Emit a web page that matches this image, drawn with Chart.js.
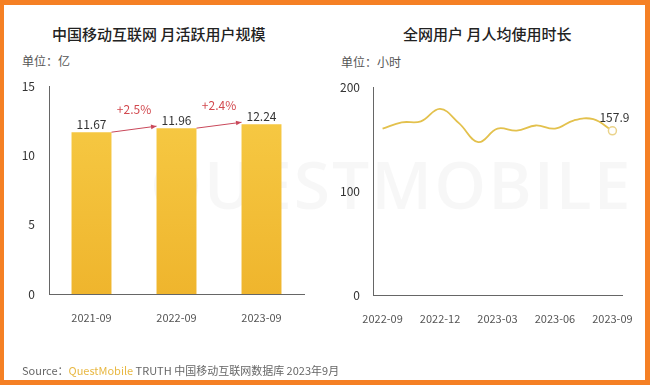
<!DOCTYPE html>
<html>
<head>
<meta charset="utf-8">
<script src="https://cdn.jsdelivr.net/npm/chart.js@4/dist/chart.umd.min.js"></script>
<style>
  body { margin: 0; }
  #frame { position: relative; width: 650px; height: 385px; background: #f58024; overflow: hidden; font-family: "Noto Sans CJK SC", "Noto Sans", sans-serif; }
  #paper { position: absolute; left: 4px; top: 5px; width: 641px; height: 375px; background: #fff; }
  .abs { position: absolute; white-space: nowrap; }
  .title { font-size: 15px; color: #222; font-weight: 500; }
  .unit { font-size: 12px; color: #555; }
  #mark { left: 150px; top: 138px; font-size: 66px; font-weight: 600; color: rgba(0,0,0,0.03); letter-spacing: 2px; font-family: "Open Sans", sans-serif; }
  canvas { position: absolute; top: 0; }
  #source { left: 22px; top: 362px; font-size: 11px; color: #666; }
</style>
</head>
<body>
<div id="frame">
  <div id="paper"></div>
  <div class="abs" id="mark">QUESTMOBILE</div>
  <div class="abs title" style="left:52px;top:23px;">中国移动互联网 月活跃用户规模</div>
  <div class="abs title" style="left:403px;top:23px;">全网用户 月人均使用时长</div>
  <div class="abs unit" style="left:22px;top:52px;">单位：亿</div>
  <div class="abs unit" style="left:341px;top:53px;">单位：小时</div>
  <canvas id="left" width="325" height="385" style="left:0;"></canvas>
  <canvas id="right" width="325" height="385" style="left:325px;"></canvas>
  <div class="abs" id="source">Source：<span style="color:#e8b843;">QuestMobile</span> TRUTH 中国移动互联网数据库 2023年9月</div>
</div>
<script>
const barLabels = ["2021-09", "2022-09", "2023-09"];
const mauValues = [11.67, 11.96, 12.24];
const growthLabels = ["+2.5%", "+2.4%"];

const months = ["2022-09", "2022-10", "2022-11", "2022-12", "2023-01", "2023-02", "2023-03",
                "2023-04", "2023-05", "2023-06", "2023-07", "2023-08", "2023-09"];
const hourValues = [160, 166, 167, 179, 165, 147, 160, 158, 163, 160, 168, 169, 157.9];

const tickFont = { family: "Noto Sans CJK SC", size: 12 };
const axisFont = { family: "Noto Sans CJK SC", size: 11 };

// value labels + growth arrows on the bar chart
const barNotes = {
  id: "barNotes",
  afterDatasetsDraw(chart) {
    const ctx = chart.ctx;
    const bars = chart.getDatasetMeta(0).data;
    ctx.save();
    ctx.font = "12px 'Noto Sans CJK SC'";
    ctx.textAlign = "center";
    ctx.textBaseline = "bottom";
    ctx.fillStyle = "#333";
    bars.forEach((b, i) => ctx.fillText(mauValues[i].toFixed(2), b.x, b.y - 2));

    ctx.strokeStyle = "#c9485a";
    ctx.fillStyle = "#c9485a";
    ctx.lineWidth = 1;
    for (let i = 0; i < bars.length - 1; i++) {
      const a = bars[i], b = bars[i + 1];
      const x1 = a.x + a.width / 2, y1 = a.y;
      const x2 = b.x - b.width / 2, y2 = b.y - 2;
      ctx.beginPath();
      ctx.moveTo(x1, y1);
      ctx.lineTo(x2, y2);
      ctx.stroke();
      const ang = Math.atan2(y2 - y1, x2 - x1);
      ctx.beginPath();
      ctx.moveTo(x2, y2);
      ctx.lineTo(x2 - 6 * Math.cos(ang - 0.4), y2 - 6 * Math.sin(ang - 0.4));
      ctx.lineTo(x2 - 6 * Math.cos(ang + 0.4), y2 - 6 * Math.sin(ang + 0.4));
      ctx.closePath();
      ctx.fill();
      ctx.fillStyle = "#d2494f";
      ctx.textBaseline = "middle";
      ctx.fillText(growthLabels[i], (x1 + x2) / 2, (y1 + y2) / 2 - 20);
      ctx.fillStyle = "#c9485a";
    }
    ctx.restore();
  }
};

new Chart(document.getElementById("left"), {
  type: "bar",
  data: {
    labels: barLabels,
    datasets: [{
      data: mauValues,
      backgroundColor(c) {
        const area = c.chart.chartArea;
        if (!area) return "#f3c13c";
        const g = c.chart.ctx.createLinearGradient(0, area.top, 0, area.bottom);
        g.addColorStop(0, "#f7cc47");
        g.addColorStop(1, "#efb52d");
        return g;
      },
      categoryPercentage: 1,
      barPercentage: 0.47
    }]
  },
  options: {
    responsive: false,
    animation: false,
    events: [],
    layout: { padding: { top: 86, bottom: 61, left: 0, right: 21 } },
    plugins: { legend: { display: false }, tooltip: { enabled: false } },
    scales: {
      x: {
        grid: { display: false },
        border: { color: "#666" },
        ticks: { color: "#555", font: axisFont, padding: 9, maxRotation: 0 },
        afterFit(s) { s.height = 30; }
      },
      y: {
        min: 0, max: 15,
        grid: { display: false, drawTicks: false },
        border: { color: "#666" },
        ticks: { stepSize: 5, color: "#333", font: tickFont, padding: 14 },
        afterFit(s) { s.width = 49; }
      }
    }
  },
  plugins: [barNotes]
});

const lastLabel = {
  id: "lastLabel",
  afterDatasetsDraw(chart) {
    const pts = chart.getDatasetMeta(0).data;
    const p = pts[pts.length - 1];
    const ctx = chart.ctx;
    ctx.save();
    ctx.font = "12px 'Noto Sans CJK SC'";
    ctx.fillStyle = "#333";
    ctx.textAlign = "center";
    ctx.textBaseline = "bottom";
    ctx.fillText(hourValues[hourValues.length - 1].toFixed(1), p.x + 2, p.y - 7);
    ctx.restore();
  }
};

new Chart(document.getElementById("right"), {
  type: "line",
  data: {
    labels: months,
    datasets: [{
      data: hourValues,
      borderColor: "#e3c14d",
      borderWidth: 1.8,
      tension: 0.4,
      pointRadius: hourValues.map((v, i) => i === hourValues.length - 1 ? 4 : 0),
      pointBackgroundColor: "#fff",
      pointBorderColor: "#ead38a",
      pointBorderWidth: 1.5
    }]
  },
  options: {
    responsive: false,
    animation: false,
    events: [],
    layout: { padding: { top: 87, bottom: 60, left: 0, right: 28 } },
    plugins: { legend: { display: false }, tooltip: { enabled: false } },
    scales: {
      x: {
        offset: true,
        grid: { display: false },
        border: { color: "#666" },
        ticks: {
          color: "#555", font: axisFont, padding: 9, maxRotation: 0, autoSkip: false,
          callback: (v, i) => i % 3 === 0 ? months[i] : ""
        },
        afterFit(s) { s.height = 30; }
      },
      y: {
        min: 0, max: 200,
        grid: { display: false, drawTicks: false },
        border: { color: "#666" },
        ticks: { stepSize: 100, color: "#333", font: tickFont, padding: 13 },
        afterFit(s) { s.width = 48; }
      }
    }
  },
  plugins: [lastLabel]
});
</script>
</body>
</html>
